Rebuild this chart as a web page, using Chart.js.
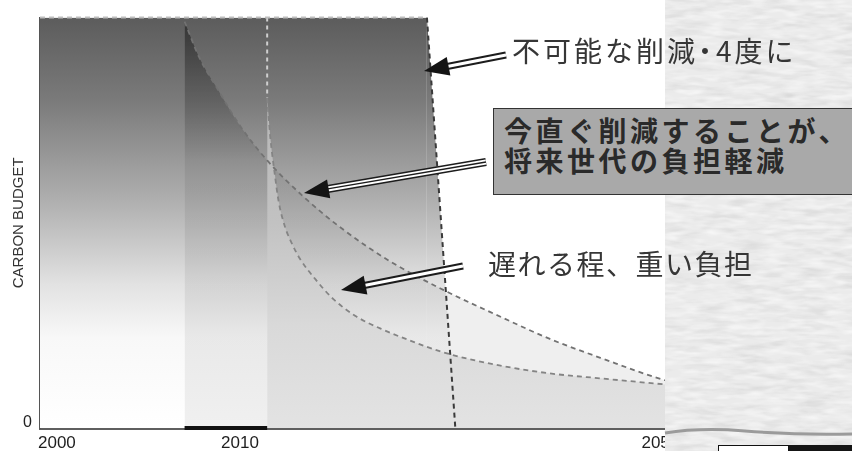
<!DOCTYPE html>
<html>
<head>
<meta charset="utf-8">
<title>Carbon budget</title>
<script src="https://cdn.jsdelivr.net/npm/chart.js@4.4.1/dist/chart.umd.min.js"></script>
<style>
  html, body { margin: 0; padding: 0; background: #fff; }
  #wrap { position: relative; width: 852px; height: 451px; overflow: hidden; font-family: "Noto Sans CJK JP", sans-serif; }
  #budgetChart { position: absolute; left: 0; top: 0; }
  #panel { position: absolute; left: 665px; top: 0; width: 187px; height: 451px; background: #ebebeb; }
  #panel svg { display: block; }
  #deco { position: absolute; left: 0; top: 0; }
  .note { position: absolute; white-space: nowrap; color: #363636; font-size: 28px; line-height: 28px; }
  #note1 { left: 512px; top: 36px; letter-spacing: 3px; }
  #note3 { left: 488px; top: 249px; letter-spacing: 1.5px; }
  .dot { margin: 0 -6px 0 -7px; }
  #boxNote {
    position: absolute; left: 493px; top: 108px; width: 380px; height: 87px; box-sizing: border-box;
    background: #a9a9a9; border: 1px solid #333;
    padding: 6px 0 0 10px;
    color: #2a2a2a; font-size: 28px; font-weight: 700; line-height: 30px; letter-spacing: 3.5px; white-space: nowrap;
  }
</style>
</head>
<body>
<div id="wrap">
  <canvas id="budgetChart" width="852" height="451"></canvas>
  <div id="panel">
    <svg width="187" height="451">
      <filter id="paper">
        <feTurbulence type="fractalNoise" baseFrequency="0.03 0.14" numOctaves="3" seed="7"/>
        <feColorMatrix values="0 0 0 0 0.55  0 0 0 0 0.55  0 0 0 0 0.55  0.9 0 0 0 -0.38"/>
      </filter>
      <filter id="paper2">
        <feTurbulence type="fractalNoise" baseFrequency="0.05 0.2" numOctaves="2" seed="21"/>
        <feColorMatrix values="0 0 0 0 1  0 0 0 0 1  0 0 0 0 1  1.2 0 0 0 -0.5"/>
      </filter>
      <rect width="187" height="451" filter="url(#paper)"/>
      <rect width="187" height="451" filter="url(#paper2)"/>
    </svg>
  </div>
  <svg id="deco" width="852" height="451">
    <path d="M665 433 C690 429 720 429 745 431 S815 435 852 434" stroke="#9b9b9b" stroke-width="3" fill="none"/>
    <rect x="718.5" y="445.5" width="70" height="8" fill="#fff" stroke="#111"/>
    <rect x="789" y="445" width="63" height="8" fill="#151515"/>
  </svg>
  <div class="note" id="note1">不可能な削減<span class="dot">・</span>4度に</div>
  <div id="boxNote">今直ぐ削減することが、<br>将来世代の負担軽減</div>
  <div class="note" id="note3">遅れる程、重い負担</div>
</div>

<script>
// cut now: budget curve starting ~2008
const yearsNow = [2007.9, 2008.7, 2009.7, 2011.6, 2014.2, 2017.6, 2021.1, 2025.9, 2031.0, 2036.4, 2041.1, 2045.9, 2052.1, 2055.0];
const budgetNow = [99.0, 90.3, 82.6, 73.7, 65.2, 56.5, 49.0, 40.6, 33.6, 27.1, 21.7, 17.1, 11.6, 9.9];

// delayed cut: starts later, drops much harder
const yearsLate = [2014.2, 2014.5, 2014.9, 2015.3, 2015.9, 2016.6, 2017.3, 2018.8, 2020.5, 2022.6, 2025.0, 2027.8, 2031.0, 2036.4, 2041.1, 2045.9, 2052.1, 2055.0];
const budgetLate = [80.4, 70.8, 62.3, 55.1, 49.0, 44.7, 41.3, 36.2, 31.4, 27.3, 24.2, 21.3, 18.4, 15.2, 13.3, 12.1, 10.6, 9.9];

// impossible cut (4 degrees)
const yearsLimit = [2000, 2029.4, 2032.1];
const budgetLimit = [100, 100, 0];

const spikeYears = [2014.2, 2014.2];
const spikeBudget = [100, 80.4];
const delayYears = [2007.9, 2014.2];
const delayBudget = [0, 0];

const tickYears = [2000, 2010, 2050];
const tickBudget = [0];

const toPoints = (xs, ys) => xs.map((x, i) => ({ x: x, y: ys[i] }));

// x axis of the original is not linear: 2000-2010 is wider than later decades
class PiecewiseScale extends Chart.LinearScale {
    static id = 'piecewise';

    getPixelForValue(value) {
        if (value === null || value === undefined) return NaN;
        const k = this.options.knot;
        let dec;
        if (value <= k.value) {
            dec = (value - this.min) / (k.value - this.min) * k.at;
        } else {
            dec = k.at + (value - k.value) / (this.max - k.value) * (1 - k.at);
        }
        return this.getPixelForDecimal(dec);
    }

    getValueForPixel(pixel) {
        const k = this.options.knot;
        const dec = this.getDecimalForPixel(pixel);
        if (dec <= k.at) return this.min + dec / k.at * (k.value - this.min);
        return k.value + (dec - k.at) / (1 - k.at) * (this.max - k.value);
    }
}
Chart.register(PiecewiseScale);

function vGradient(chart, stops) {
    const area = chart.chartArea;
    if (!area) return 'rgba(0,0,0,0)';
    const g = chart.ctx.createLinearGradient(0, area.top, 0, area.bottom);
    stops.forEach(s => g.addColorStop(s[0], s[1]));
    return g;
}

const arrowMarks = [
    { x1: 506, y1: 55, x2: 424, y2: 71, three: false },
    { x1: 486, y1: 162, x2: 304, y2: 193, three: true },
    { x1: 463, y1: 266, x2: 341, y2: 290, three: false }
];

function drawArrow(ctx, a) {
    const ang = Math.atan2(a.y2 - a.y1, a.x2 - a.x1);
    const head = 25, half = 9.5;
    const bx = a.x2 - Math.cos(ang) * head;
    const by = a.y2 - Math.sin(ang) * head;
    ctx.save();
    ctx.lineCap = 'butt';
    const shaft = (w, c) => {
        ctx.beginPath();
        ctx.moveTo(a.x1, a.y1);
        ctx.lineTo(bx + Math.cos(ang) * 4, by + Math.sin(ang) * 4);
        ctx.lineWidth = w;
        ctx.strokeStyle = c;
        ctx.stroke();
    };
    if (a.three) {
        shaft(8, '#1c1c1c');
        shaft(5, '#ffffff');
        shaft(1.3, '#1c1c1c');
    } else {
        shaft(7, '#1c1c1c');
        shaft(3, '#ffffff');
    }
    ctx.beginPath();
    ctx.moveTo(a.x2, a.y2);
    ctx.lineTo(bx + Math.sin(ang) * half, by - Math.cos(ang) * half);
    ctx.lineTo(bx - Math.sin(ang) * half, by + Math.cos(ang) * half);
    ctx.closePath();
    ctx.fillStyle = '#141414';
    ctx.fill();
    ctx.restore();
}

const arrowPlugin = {
    id: 'arrows',
    afterDraw(chart) {
        arrowMarks.forEach(a => drawArrow(chart.ctx, a));
    }
};

const ctx = document.getElementById('budgetChart').getContext('2d');
new Chart(ctx, {
    type: 'line',
    data: {
        datasets: [{
            label: 'delayed',
            data: toPoints(yearsLate, budgetLate),
            borderColor: '#848484',
            borderWidth: 1.8,
            borderDash: [5, 4],
            cubicInterpolationMode: 'monotone',
            fill: 'origin',
            backgroundColor: c => vGradient(c.chart, [[0, '#b6b6b6'], [0.2, '#b6b6b6'], [0.5, '#c2c2c2'], [0.75, '#d9d9d9'], [1, '#e3e3e3']]),
            pointRadius: 0
        }, {
            label: 'now',
            data: toPoints(yearsNow, budgetNow),
            borderColor: '#727272',
            borderWidth: 1.8,
            borderDash: [5, 4],
            cubicInterpolationMode: 'monotone',
            fill: 'origin',
            backgroundColor: c => vGradient(c.chart, [[0, 'rgba(0,0,0,0.45)'], [0.15, 'rgba(0,0,0,0.25)'], [0.35, 'rgba(0,0,0,0.07)'], [1, 'rgba(0,0,0,0.06)']]),
            pointRadius: 0
        }, {
            label: 'impossible',
            data: toPoints(yearsLimit, budgetLimit),
            borderWidth: 2,
            borderDash: [5, 4],
            segment: {
                borderColor: s => s.p0.parsed.y === s.p1.parsed.y ? '#bdbdbd' : '#3a3a3a'
            },
            fill: 'origin',
            backgroundColor: c => vGradient(c.chart, [[0, '#5c5c5c'], [0.2, '#7a7a7a'], [0.45, '#b0b0b0'], [0.65, '#e2e2e2'], [0.78, '#f8f8f8'], [1, '#ffffff']]),
            pointRadius: 0,
            clip: false
        }, {
            label: 'spike',
            data: toPoints(spikeYears, spikeBudget),
            borderColor: '#cfcfcf',
            borderWidth: 2,
            borderDash: [4, 4],
            fill: false,
            pointRadius: 0
        }, {
            label: 'delay',
            data: toPoints(delayYears, delayBudget),
            borderColor: '#111111',
            borderWidth: 4,
            fill: false,
            pointRadius: 0,
            clip: false
        }]
    },
    options: {
        responsive: false,
        animation: false,
        events: [],
        layout: {
            padding: { top: 14, right: 156, left: 0, bottom: 0 }
        },
        plugins: {
            legend: { display: false },
            tooltip: { enabled: false },
            filler: { drawTime: 'beforeDatasetsDraw' }
        },
        scales: {
            x: {
                type: 'piecewise',
                min: 2000,
                max: 2055,
                knot: { value: 2010, at: 0.279 },
                grid: { display: false, drawTicks: false },
                border: { display: true, color: '#5f5f5f', width: 3 },
                ticks: {
                    align: 'start',
                    labelOffset: -2,
                    padding: 5,
                    autoSkip: false,
                    maxRotation: 0,
                    color: '#1e1e1e',
                    font: { family: 'Liberation Sans', size: 17 },
                    callback: v => String(v)
                },
                afterBuildTicks: s => { s.ticks = tickYears.map(v => ({ value: v })); },
                afterFit: s => { s.height = 23; }
            },
            y: {
                min: 0,
                max: 100,
                grid: { display: false, drawTicks: false },
                border: { display: true, color: '#555555', width: 2 },
                ticks: {
                    padding: 8,
                    labelOffset: -5,
                    color: '#222222',
                    font: { family: 'Liberation Sans', size: 16 }
                },
                title: {
                    display: true,
                    text: 'CARBON BUDGET',
                    color: '#333333',
                    font: { family: 'Liberation Sans', size: 15 },
                    padding: { top: 10, bottom: 0 }
                },
                afterBuildTicks: s => { s.ticks = tickBudget.map(v => ({ value: v })); },
                afterFit: s => { s.width = 40; }
            }
        }
    },
    plugins: [arrowPlugin]
});
</script>
</body>
</html>
